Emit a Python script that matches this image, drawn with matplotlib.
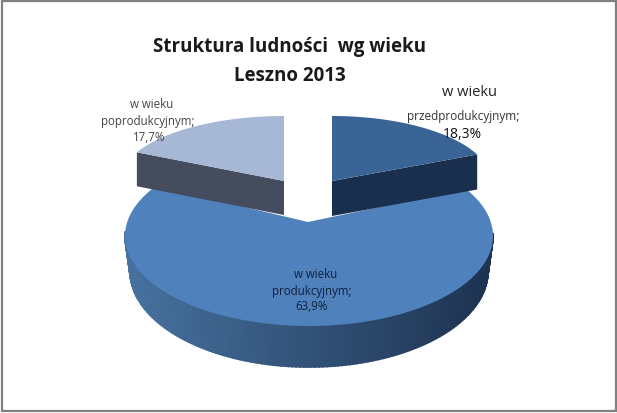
import numpy as np
import matplotlib.pyplot as plt
from matplotlib.colors import to_rgb
from matplotlib.patches import Rectangle

#%% data
names = ['w wieku\nprzedprodukcyjnym;', 'w wieku\nprodukcyjnym;', 'w wieku\npoprodukcyjnym;']
shares = [18.3, 63.9, 17.7]
share_labels = ['18,3%', '63,9%', '17,7%']
title_lines = ['Struktura ludności  wg wieku', 'Leszno 2013']

#%% look of the slices, all in pixels of the picture
# apex x, apex y, centre x, centre y, half width, half height
geom = [(332, 182, 332, 182, 159, 65),
        (308, 223, 309, 237, 184, 90),
        (284, 182, 284, 182, 164, 65)]
# bottom ellipse: centre y, half width, half height
bottom = [(217, 159, 65),
          (272, 179, 96),
          (216, 164, 65)]
depth = [35, 41, 34]
# the perspective makes the big slice look wider than its share
widen = [0, 7.5, 0]
top_cols = ['#3a6496', '#4f81bd', '#a7b8d6']
rim_left = ['#1a2f4e', '#47729f', '#454c5e']
rim_right = ['#1a2f4e', '#1d3250', '#454c5e']

plt.rcParams['font.family'] = ['Open Sans', 'DejaVu Sans']
fig = plt.figure(figsize=(6.17, 4.14), dpi=100)
ax = fig.add_axes([0, 0, 1, 1])
ax.set_xlim(0, 617)
ax.set_ylim(414, 0)
ax.axis('off')


def draw_slice(i, a0, a1):
    g = geom[i]
    b = bottom[i]
    d = depth[i]
    t = np.radians(np.linspace(a0 - widen[i], a1 + widen[i], 200))
    x = g[2] + g[4] * np.sin(t)
    y = g[3] - g[5] * np.cos(t)
    xb = g[2] + b[1] * np.sin(t)
    yb = b[0] - b[2] * np.cos(t)
    # rim of the round side, only the part facing us
    for k in range(len(x) - 1):
        if np.cos(t[k]) < 0.05:
            f = (x[k] - x.min()) / (x.max() - x.min())
            c = (1 - f) * np.array(to_rgb(rim_left[i])) + f * np.array(to_rgb(rim_right[i]))
            ax.fill([x[k], x[k + 1], xb[k + 1], xb[k]], [y[k], y[k + 1], yb[k + 1], yb[k]],
                    color=c, lw=1.2, zorder=i * 2 + 1)
    # flat cut sides of the upper slices
    if i == 0:
        ax.fill([g[0], x[-1], x[-1], g[0]], [g[1], y[-1], y[-1] + d, g[1] + d],
                color=rim_left[i], lw=0, zorder=10)
    if i == 2:
        ax.fill([g[0], x[0], x[0], g[0]], [g[1], y[0], y[0] + d, g[1] + d],
                color=rim_left[i], lw=0, zorder=10)
    z = 11 if i != 1 else 4
    ax.fill(np.r_[g[0], x], np.r_[g[1], y], color=top_cols[i], lw=0, zorder=z)


starts = np.r_[0, np.cumsum(shares)[:-1]] / sum(shares) * 360
ends = np.cumsum(shares) / sum(shares) * 360
for i in [1, 0, 2]:
    draw_slice(i, starts[i], ends[i])

#%% frame
ax.add_patch(Rectangle((1.5, 1.5), 614, 411, fill=False, ec='#808080', lw=1.6, zorder=20))

#%% texts
ax.text(290, 47, title_lines[0], ha='center', va='center', fontsize=13.5, fontweight='bold',
        color='#1a1a1a', zorder=30)
ax.text(290, 76, title_lines[1], ha='center', va='center', fontsize=13.5, fontweight='bold',
        color='#1a1a1a', zorder=30)

ax.text(470, 93, names[0].split('\n')[0], ha='center', va='center', fontsize=10.5, color='#222222', zorder=30)
ax.text(463, 117, names[0].split('\n')[1], ha='center', va='center', fontsize=8.5, color='#333333', zorder=30)
ax.text(462, 135, share_labels[0], ha='center', va='center', fontsize=10, color='#111111', zorder=30)

ax.text(316, 275, names[1].split('\n')[0], ha='center', va='center', fontsize=8.3, color='#10203a', zorder=30)
ax.text(312, 292, names[1].split('\n')[1], ha='center', va='center', fontsize=8.3, color='#10203a', zorder=30)
ax.text(312, 307, share_labels[1], ha='center', va='center', fontsize=8.3, color='#10203a', zorder=30)

ax.text(152, 105, names[2].split('\n')[0], ha='center', va='center', fontsize=8.3, color='#444444', zorder=30)
ax.text(148, 122, names[2].split('\n')[1], ha='center', va='center', fontsize=8.3, color='#444444', zorder=30)
ax.text(149, 138, share_labels[2], ha='center', va='center', fontsize=8.3, color='#444444', zorder=30)

fig.savefig('out.png', dpi=100)
